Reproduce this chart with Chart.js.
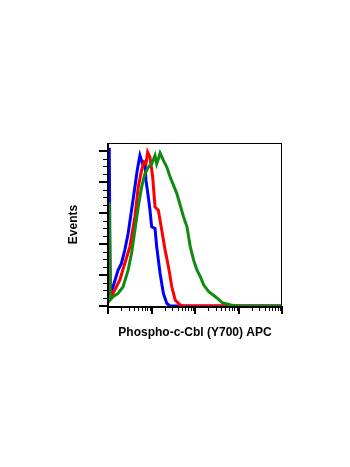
<!DOCTYPE html>
<html>
<head>
<meta charset="utf-8">
<script src="https://cdn.jsdelivr.net/npm/chart.js@4"></script>
<style>
  html, body { margin: 0; padding: 0; background: #fff; }
  #wrap { width: 350px; height: 467px; }
</style>
</head>
<body>
<div id="wrap"><canvas id="histo"></canvas></div>
<script>
// histogram traces, channel value (log axis) vs events
const blueX  = [1.07, 1.12, 1.306, 1.706, 2.037, 2.432, 2.904, 3.475, 4.150, 4.699, 5.420, 6.237, 7.063, 7.464, 8.453, 9.226, 10.09, 12.05, 13.18, 15.74, 18.79, 22.44, 26.85, 10000];
const blueY  = [102, 8.1, 12.4, 23.1, 27.4, 36.0, 46.7, 61.7, 76.6, 87.4, 97.0, 91.6, 92.7, 80.9, 70.2, 61.7, 51.0, 49.9, 38.1, 21.0, 8.1, 1.7, 0, 0];

const redX   = [1.07, 1.12, 1.426, 1.862, 2.432, 3.177, 4.150, 4.955, 5.916, 6.699, 7.464, 8.147, 9.226, 10.64, 12.05, 14.39, 17.22, 20.56, 24.55, 29.31, 34.99, 45.71, 54.58, 10000];
const redY   = [60, 4.9, 10.3, 16.7, 27.4, 38.1, 57.4, 76.6, 87.4, 92.7, 91.6, 99.1, 95.9, 83.1, 63.8, 61.7, 48.8, 36.0, 25.3, 12.4, 3.9, 0.6, 0, 0];

const greenX = [1.07, 1.12, 1.306, 1.706, 2.223, 2.904, 3.475, 4.150, 4.955, 5.916, 7.063, 8.453, 10.09, 12.05, 13.18, 14.39, 15.74, 18.79, 22.44, 26.85, 32.06, 38.28, 45.71, 54.58, 65.31, 77.98, 93.11, 111.2, 133.0, 158.9, 207.5, 295.8, 421.7, 659.2, 939.7, 10000];
const greenY = [67.0, 3.9, 6.0, 8.1, 12.4, 23.1, 33.8, 48.8, 63.8, 76.6, 85.2, 89.5, 91.6, 97.0, 91.6, 94.8, 98.5, 93.8, 89.5, 83.1, 77.7, 72.4, 64.9, 57.4, 51.0, 38.1, 29.5, 23.1, 18.8, 13.5, 9.2, 6.0, 2.1, 0.6, 0, 0];

const xTitle = "Phospho-c-Cbl (Y700) APC";
const yTitle = "Events";

function pts(xs, ys) {
    return xs.map(function (x, i) { return { x: x, y: ys[i] }; });
}

// log decade ticks (1..9 per decade), major on powers of ten
function logTicks(scale) {
    const ticks = [];
    for (let p = 1; p < 10000; p *= 10) {
        for (let k = 1; k < 10; k++) {
            ticks.push({ value: k * p, major: k === 1 });
        }
    }
    ticks.push({ value: 10000, major: true });
    scale.ticks = ticks;
}

function linTicks(scale) {
    const ticks = [];
    for (let v = 0; v <= 100; v += 5) {
        ticks.push({ value: v, major: v % 20 === 0 });
    }
    scale.ticks = ticks;
}

// frame + tick marks drawn from the scales
const axisMarks = {
    id: "axisMarks",
    afterDraw: function (chart) {
        const ctx = chart.ctx;
        const a = chart.chartArea;
        const xs = chart.scales.x;
        const ys = chart.scales.y;
        ctx.save();
        ctx.strokeStyle = "#000";
        ctx.lineWidth = 1;
        ctx.strokeRect(a.left + 0.5, a.top + 0.5, a.right - a.left - 1, a.bottom - a.top);

        ctx.lineWidth = 2;
        ctx.beginPath();
        ctx.moveTo(a.left, a.top);
        ctx.lineTo(a.left, a.bottom + 1);
        ctx.lineTo(a.right, a.bottom + 1);
        ctx.stroke();

        xs.ticks.forEach(function (t) {
            const px = Math.round(xs.getPixelForValue(t.value));
            ctx.lineWidth = t.major ? 2 : 1;
            ctx.beginPath();
            ctx.moveTo(px + (t.major ? 0 : 0.5), a.bottom);
            ctx.lineTo(px + (t.major ? 0 : 0.5), a.bottom + (t.major ? 8 : 5));
            ctx.stroke();
        });
        ys.ticks.forEach(function (t) {
            const py = Math.round(ys.getPixelForValue(t.value));
            ctx.lineWidth = t.major ? 2 : 1;
            ctx.beginPath();
            ctx.moveTo(a.left, py + (t.major ? 0 : 0.5));
            ctx.lineTo(a.left - (t.major ? 9 : 5), py + (t.major ? 0 : 0.5));
            ctx.stroke();
        });
        ctx.restore();
    }
};

const line = function (label, data, color) {
    return {
        label: label,
        data: data,
        borderColor: color,
        backgroundColor: color,
        borderWidth: 3,
        pointRadius: 0,
        tension: 0,
        fill: false
    };
};

new Chart(document.getElementById("histo"), {
    type: "line",
    data: {
        datasets: [
            line("Blue", pts(blueX, blueY), "#0000ff"),
            line("Red", pts(redX, redY), "#ff0000"),
            line("Green", pts(greenX, greenY), "#118a11")
        ].reverse()
    },
    options: {
        responsive: true,
        maintainAspectRatio: false,
        animation: false,
        layout: { padding: { left: 62, right: 68, top: 143, bottom: 121 } },
        plugins: { legend: { display: false }, tooltip: { enabled: false } },
        scales: {
            x: {
                type: "logarithmic",
                min: 1,
                max: 10000,
                afterBuildTicks: logTicks,
                afterFit: function (s) { s.height = 40; },
                ticks: { display: false },
                grid: { display: false },
                border: { display: false },
                title: {
                    display: true,
                    text: xTitle,
                    color: "#000",
                    font: { family: "Liberation Sans", size: 12, weight: "bold" },
                    padding: { top: 0, bottom: 6 }
                }
            },
            y: {
                type: "linear",
                min: 0,
                max: 105,
                afterBuildTicks: linTicks,
                afterFit: function (s) { s.width = 46; },
                ticks: { display: false },
                grid: { display: false },
                border: { display: false },
                title: {
                    display: true,
                    text: yTitle,
                    color: "#000",
                    font: { family: "Liberation Sans", size: 12, weight: "bold" },
                    padding: { top: 4, bottom: 0 }
                }
            }
        }
    },
    plugins: [axisMarks]
});
</script>
</body>
</html>
